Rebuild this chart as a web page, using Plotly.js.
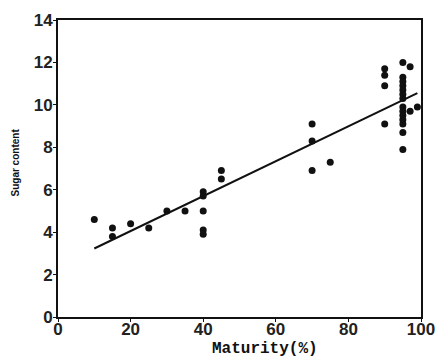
<!DOCTYPE html>
<html>
<head>
<meta charset="utf-8">
<script src="https://cdn.plot.ly/plotly-3.0.1.min.js"></script>
<style>html,body{margin:0;padding:0;background:#fff;}#chart{width:445px;height:359px;}</style>
</head>
<body>
<div id="chart"></div>
<script>
// Observed data: maturity (%) and sugar content
const maturity = [10, 15, 15, 20, 25, 30, 35, 40, 40, 40, 40, 40, 45, 45,
  70, 70, 70, 75,
  90, 90, 90, 90,
  95, 97, 95, 95, 95, 95, 95, 95, 95, 95, 95, 95, 95, 97, 99, 95, 95];
const sugar = [4.6, 4.2, 3.8, 4.4, 4.2, 5.0, 5.0, 5.9, 5.7, 5.0, 4.1, 3.9, 6.5, 6.9,
  9.1, 8.3, 6.9, 7.3,
  11.7, 11.4, 10.9, 9.1,
  12.0, 11.8, 11.3, 11.1, 10.9, 10.7, 10.5, 10.3, 9.9, 9.7, 9.5, 9.3, 9.1, 9.7, 9.9, 8.7, 7.9];
// Fitted regression line endpoints
const fitX = [10, 99];
const fitY = [3.23, 10.55];
const xTicks = [0, 20, 40, 60, 80, 100];
const yTicks = [0, 2, 4, 6, 8, 10, 12, 14];

const traces = [
  {x: maturity, y: sugar, mode: 'markers', type: 'scatter',
   marker: {color: '#111', size: 7, symbol: 'circle'}, cliponaxis: false, hoverinfo: 'skip'},
  {x: fitX, y: fitY, mode: 'lines', type: 'scatter',
   line: {color: '#111', width: 2}, hoverinfo: 'skip'}
];

const tickFont = {family: 'Liberation Sans, Arial, sans-serif', size: 17, color: '#222', weight: 'bold'};
const layout = {
  width: 445, height: 359,
  margin: {l: 58, r: 24, t: 20, b: 42},
  paper_bgcolor: '#fff', plot_bgcolor: '#fff',
  showlegend: false,
  xaxis: {range: [0, 100], tickvals: xTicks, ticktext: xTicks.map(String),
    showgrid: false, zeroline: false, showline: true, mirror: true,
    linecolor: '#111', linewidth: 2, ticks: 'outside', ticklen: 3, tickcolor: '#111',
    tickfont: tickFont, ticklabelstandoff: -7},
  yaxis: {range: [0, 14], tickvals: yTicks, ticktext: yTicks.map(String),
    showgrid: false, zeroline: false, showline: true, mirror: true,
    linecolor: '#111', linewidth: 2, ticks: 'outside', ticklen: 3, tickcolor: '#111',
    tickfont: tickFont, ticklabelstandoff: -3},
  annotations: [
    {text: 'Maturity(%)', xref: 'paper', yref: 'paper', x: 0.57, y: 0, yshift: -32,
     xanchor: 'center', yanchor: 'middle', showarrow: false,
     font: {family: 'Liberation Mono, Courier New, monospace', size: 16, color: '#111', weight: 'bold'}},
    {text: 'Sugar content', xref: 'paper', yref: 'paper', x: 0, xshift: -43, y: 0.5, yshift: 6,
     xanchor: 'center', yanchor: 'middle', showarrow: false, textangle: -90,
     font: {family: 'Liberation Sans Narrow, Liberation Sans, Arial, sans-serif', size: 10, color: '#111', weight: 'bold'}}
  ]
};
Plotly.newPlot('chart', traces, layout, {displayModeBar: false, staticPlot: true});
</script>
</body>
</html>
